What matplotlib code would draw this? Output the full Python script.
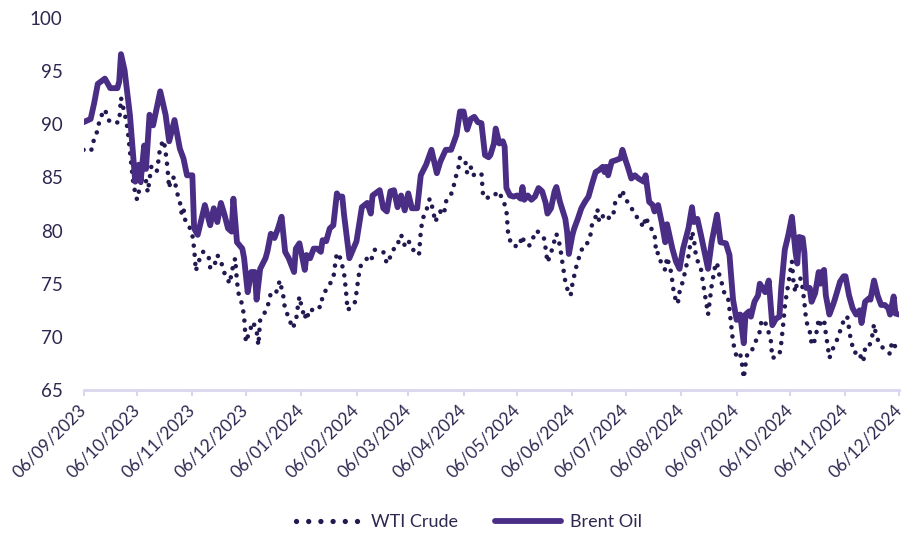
import matplotlib
matplotlib.use("Agg")
import matplotlib.pyplot as plt
import pandas as pd
from matplotlib.lines import Line2D

brent_dates = [
 "2023-09-06","2023-09-10","2023-09-12","2023-09-14","2023-09-18","2023-09-21","2023-09-25","2023-09-26","2023-09-27","2023-09-29",
 "2023-10-02","2023-10-05","2023-10-07","2023-10-08","2023-10-10","2023-10-11","2023-10-13","2023-10-15","2023-10-19","2023-10-22",
 "2023-10-24","2023-10-27","2023-10-30","2023-11-01","2023-11-03","2023-11-06","2023-11-07","2023-11-09","2023-11-13","2023-11-16",
 "2023-11-18","2023-11-20","2023-11-22","2023-11-24","2023-11-26","2023-11-28","2023-11-29","2023-12-01","2023-12-04","2023-12-05",
 "2023-12-07","2023-12-09","2023-12-11","2023-12-12","2023-12-14","2023-12-17","2023-12-18","2023-12-20","2023-12-22","2023-12-24",
 "2023-12-26","2023-12-28","2023-12-30","2024-01-02","2024-01-03","2024-01-05","2024-01-08","2024-01-09","2024-01-11","2024-01-13",
 "2024-01-15","2024-01-17","2024-01-18","2024-01-20","2024-01-22","2024-01-24","2024-01-26","2024-01-27","2024-01-29","2024-01-30",
 "2024-02-02","2024-02-06","2024-02-09","2024-02-12","2024-02-14","2024-02-15","2024-02-19","2024-02-21","2024-02-23","2024-02-25",
 "2024-02-27","2024-02-29","2024-03-02","2024-03-04","2024-03-06","2024-03-08","2024-03-11","2024-03-13","2024-03-16","2024-03-19",
 "2024-03-22","2024-03-24","2024-03-27","2024-03-30","2024-04-02","2024-04-04","2024-04-06","2024-04-08","2024-04-10","2024-04-12",
 "2024-04-14","2024-04-16","2024-04-18","2024-04-20","2024-04-21","2024-04-23","2024-04-24","2024-04-26","2024-04-28","2024-04-29",
 "2024-04-30","2024-05-02","2024-05-04","2024-05-06","2024-05-08","2024-05-09","2024-05-10","2024-05-12","2024-05-14","2024-05-16",
 "2024-05-18","2024-05-20","2024-05-22","2024-05-23","2024-05-25","2024-05-27","2024-05-28","2024-05-30","2024-06-02","2024-06-03",
 "2024-06-04","2024-06-06","2024-06-07","2024-06-09","2024-06-11","2024-06-13","2024-06-15","2024-06-17","2024-06-19","2024-06-21",
 "2024-06-23","2024-06-24","2024-06-25","2024-06-26","2024-06-28","2024-06-30","2024-07-03","2024-07-04","2024-07-06","2024-07-07",
 "2024-07-09","2024-07-11","2024-07-13","2024-07-16","2024-07-17","2024-07-19","2024-07-21","2024-07-22","2024-07-24","2024-07-26",
 "2024-07-28","2024-07-29","2024-08-01","2024-08-03","2024-08-05","2024-08-07","2024-08-10","2024-08-12","2024-08-13","2024-08-15",
 "2024-08-17","2024-08-19","2024-08-21","2024-08-23","2024-08-26","2024-08-28","2024-08-31","2024-09-02","2024-09-04","2024-09-06",
 "2024-09-08","2024-09-10","2024-09-11","2024-09-13","2024-09-14","2024-09-16","2024-09-18","2024-09-19","2024-09-22","2024-09-24",
 "2024-09-26","2024-09-28","2024-09-30","2024-10-01","2024-10-03","2024-10-05","2024-10-07","2024-10-09","2024-10-10","2024-10-11",
 "2024-10-13","2024-10-14","2024-10-15","2024-10-17","2024-10-18","2024-10-20","2024-10-22","2024-10-23","2024-10-24","2024-10-25",
 "2024-10-26","2024-10-28","2024-10-30","2024-10-31","2024-11-03","2024-11-05","2024-11-06","2024-11-08","2024-11-10","2024-11-12",
 "2024-11-14","2024-11-15","2024-11-17","2024-11-19","2024-11-20","2024-11-22","2024-11-24","2024-11-26","2024-11-28","2024-11-30",
 "2024-12-01","2024-12-03","2024-12-04","2024-12-06",
]
brent_values = [
 90.2,90.5,92.0,93.8,94.3,93.4,93.4,94.0,96.6,95.1,
 90.9,84.6,86.2,84.6,88.0,85.8,90.9,89.9,93.1,90.9,
 88.4,90.4,87.7,86.8,85.2,85.2,80.2,79.6,82.4,80.5,
 82.1,80.8,82.6,81.5,80.2,79.9,83.0,78.9,78.3,77.4,
 74.2,76.1,76.1,73.5,76.4,77.4,78.0,79.7,79.3,80.2,
 81.3,78.0,77.4,76.1,78.3,78.8,76.3,77.7,77.4,78.3,
 78.3,78.0,79.1,79.0,80.2,80.5,83.5,83.2,83.2,81.5,
 77.4,79.0,82.2,82.6,81.6,83.3,83.8,82.1,81.8,83.7,
 83.8,82.2,83.3,81.9,83.5,82.1,82.1,85.2,86.2,87.6,
 85.4,86.5,87.6,87.6,89.0,91.2,91.2,89.5,90.5,90.7,
 90.2,90.1,87.1,86.9,87.1,88.2,89.6,88.2,88.4,87.9,
 84.0,83.3,83.2,83.3,83.0,84.1,82.9,83.3,82.9,83.2,
 84.0,83.7,82.6,81.6,82.1,83.7,84.1,82.7,81.1,79.9,
 77.8,79.6,80.2,81.1,82.1,82.7,83.2,84.4,85.5,85.7,
 86.0,85.5,86.0,85.2,86.5,86.6,86.8,87.6,86.5,86.0,
 84.9,85.2,84.9,84.6,85.2,82.7,82.4,81.8,82.4,80.8,
 78.9,80.6,78.3,77.1,76.4,78.3,80.2,82.2,80.8,81.1,
 79.6,78.0,76.4,78.9,81.5,78.9,78.8,77.7,73.5,71.6,
 72.1,69.4,72.1,72.4,71.9,73.3,73.9,75.0,74.2,75.3,
 71.1,71.7,71.9,74.6,78.2,79.6,81.3,78.0,76.9,79.4,
 79.3,77.9,74.6,74.6,73.3,74.1,76.1,75.0,76.1,76.3,
 73.9,72.1,73.0,73.5,75.2,75.7,75.7,73.9,72.7,72.1,
 72.5,71.3,73.3,73.6,73.5,75.3,73.9,73.0,73.0,72.7,
 72.1,73.8,72.2,72.1,
]

wti_dates = [
 "2023-09-06","2023-09-09","2023-09-11","2023-09-12","2023-09-14","2023-09-15","2023-09-18","2023-09-20","2023-09-22","2023-09-26",
 "2023-09-27","2023-09-30","2023-10-01","2023-10-04","2023-10-06","2023-10-08","2023-10-09","2023-10-11","2023-10-12","2023-10-14",
 "2023-10-16","2023-10-17","2023-10-18","2023-10-19","2023-10-21","2023-10-22","2023-10-23","2023-10-24","2023-10-25","2023-10-27",
 "2023-10-28","2023-10-30","2023-10-31","2023-11-01","2023-11-02","2023-11-04","2023-11-06","2023-11-07","2023-11-08","2023-11-09",
 "2023-11-12","2023-11-15","2023-11-16","2023-11-18","2023-11-20","2023-11-22","2023-11-24","2023-11-27","2023-11-28","2023-11-30",
 "2023-12-01","2023-12-02","2023-12-04","2023-12-05","2023-12-06","2023-12-08","2023-12-10","2023-12-12","2023-12-13","2023-12-14",
 "2023-12-17","2023-12-19","2023-12-20","2023-12-23","2023-12-25","2023-12-27","2023-12-28","2023-12-30","2024-01-01","2024-01-03",
 "2024-01-04","2024-01-05","2024-01-06","2024-01-08","2024-01-09","2024-01-10","2024-01-13","2024-01-17","2024-01-18","2024-01-21",
 "2024-01-24","2024-01-25","2024-01-26","2024-01-28","2024-01-30","2024-01-31","2024-02-01","2024-02-05","2024-02-06","2024-02-07",
 "2024-02-08","2024-02-12","2024-02-14","2024-02-16","2024-02-21","2024-02-23","2024-02-24","2024-02-27","2024-02-29","2024-03-01",
 "2024-03-02","2024-03-04","2024-03-06","2024-03-08","2024-03-12","2024-03-13","2024-03-14","2024-03-16","2024-03-18","2024-03-20",
 "2024-03-21","2024-03-24","2024-03-26","2024-03-27","2024-03-31","2024-04-01","2024-04-03","2024-04-04","2024-04-07","2024-04-08",
 "2024-04-10","2024-04-11","2024-04-13","2024-04-16","2024-04-17","2024-04-20","2024-04-23","2024-04-25","2024-04-28","2024-04-30",
 "2024-05-01","2024-05-03","2024-05-07","2024-05-09","2024-05-10","2024-05-13","2024-05-14","2024-05-17","2024-05-21","2024-05-22",
 "2024-05-23","2024-05-25","2024-05-28","2024-05-30","2024-05-31","2024-06-01","2024-06-02","2024-06-04","2024-06-05","2024-06-06",
 "2024-06-08","2024-06-09","2024-06-11","2024-06-13","2024-06-16","2024-06-17","2024-06-19","2024-06-20","2024-06-21","2024-06-24",
 "2024-06-27","2024-06-29","2024-06-30","2024-07-02","2024-07-04","2024-07-05","2024-07-09","2024-07-10","2024-07-12","2024-07-16",
 "2024-07-17","2024-07-19","2024-07-22","2024-07-23","2024-07-24","2024-07-26","2024-07-28","2024-07-29","2024-07-31","2024-08-01",
 "2024-08-02","2024-08-04","2024-08-05","2024-08-07","2024-08-09","2024-08-10","2024-08-11","2024-08-12","2024-08-13","2024-08-14",
 "2024-08-15","2024-08-17","2024-08-18","2024-08-19","2024-08-20","2024-08-21","2024-08-23","2024-08-25","2024-08-26","2024-08-27",
 "2024-08-28","2024-08-30","2024-09-01","2024-09-02","2024-09-03","2024-09-04","2024-09-06","2024-09-08","2024-09-09","2024-09-10",
 "2024-09-11","2024-09-12","2024-09-14","2024-09-17","2024-09-19","2024-09-20","2024-09-22","2024-09-23","2024-09-25","2024-09-26",
 "2024-09-30","2024-10-01","2024-10-02","2024-10-03","2024-10-04","2024-10-05","2024-10-06","2024-10-07","2024-10-08","2024-10-09",
 "2024-10-10","2024-10-12","2024-10-13","2024-10-14","2024-10-15","2024-10-17","2024-10-18","2024-10-19","2024-10-21","2024-10-22",
 "2024-10-23","2024-10-25","2024-10-26","2024-10-27","2024-10-28","2024-10-30","2024-11-02","2024-11-04","2024-11-06","2024-11-07",
 "2024-11-08","2024-11-09","2024-11-11","2024-11-14","2024-11-15","2024-11-16","2024-11-17","2024-11-19","2024-11-21","2024-11-22",
 "2024-11-23","2024-11-25","2024-11-28","2024-12-01","2024-12-02","2024-12-03","2024-12-05","2024-12-06",
]
wti_values = [
 87.6,87.4,87.7,88.8,89.4,90.5,91.4,90.4,90.1,90.2,
 92.5,90.3,89.1,84.3,82.9,84.4,84.9,84.7,83.6,86.0,
 85.7,85.5,86.6,87.9,88.5,87.4,86.0,84.0,84.9,85.0,
 83.8,82.7,81.6,82.1,81.0,80.5,79.6,78.3,76.2,76.9,
 78.0,77.7,76.5,76.5,77.7,77.1,76.0,75.0,76.1,77.4,
 75.2,74.0,73.0,71.9,69.5,70.5,71.4,70.6,69.2,71.6,
 72.4,73.3,74.2,74.2,75.3,73.8,72.5,71.9,70.8,71.4,
 72.7,73.8,73.0,71.7,72.4,71.9,72.8,72.8,73.9,74.7,
 75.5,76.8,77.9,77.4,76.0,74.5,72.5,73.2,74.2,75.5,
 76.6,77.4,77.1,78.2,78.0,76.9,77.2,78.3,78.5,79.4,
 79.6,78.6,79.1,78.3,77.7,79.9,81.1,81.8,83.0,81.9,
 80.8,81.8,81.5,82.7,83.7,84.7,85.8,86.9,86.5,85.4,
 86.0,85.2,85.3,85.4,83.1,83.1,83.2,83.7,83.0,81.9,
 79.6,78.6,78.5,79.5,78.8,78.6,79.0,80.0,79.3,78.3,
 77.0,77.9,79.7,78.6,77.4,76.3,75.2,74.0,73.9,75.0,
 76.5,77.1,78.2,78.3,79.5,80.6,81.3,82.0,80.8,81.6,
 81.1,81.6,82.7,83.0,83.8,83.2,82.1,81.9,81.3,80.3,
 81.3,80.5,79.7,77.8,77.9,76.8,76.3,77.5,76.3,75.2,
 73.9,73.1,74.2,75.3,76.8,77.6,78.7,79.9,79.3,77.9,
 77.2,76.4,75.3,74.2,73.2,72.1,74.8,76.7,77.0,76.0,
 75.5,74.2,73.9,72.6,71.0,69.5,68.1,68.4,67.5,66.1,
 67.4,68.4,68.5,69.7,70.5,71.6,71.4,70.8,70.0,68.0,
 68.3,69.4,71.0,72.8,74.0,75.0,76.1,77.1,74.9,74.2,
 75.3,75.5,74.6,73.2,71.5,70.5,69.4,69.2,70.6,71.7,
 71.2,71.6,70.3,69.2,68.0,68.9,70.0,71.1,71.9,71.9,
 70.8,69.7,68.5,68.6,67.7,67.7,68.9,68.9,70.1,71.2,
 70.3,69.3,68.8,68.4,69.5,69.5,68.5,68.4,
]

tick_labels = ["06/09/2023","06/10/2023","06/11/2023","06/12/2023","06/01/2024","06/02/2024",
               "06/03/2024","06/04/2024","06/05/2024","06/06/2024","06/07/2024","06/08/2024",
               "06/09/2024","06/10/2024","06/11/2024","06/12/2024"]
y_ticks = [65, 70, 75, 80, 85, 90, 95, 100]

BRENT_C = "#4a2d84"
WTI_C = "#231850"
TEXT_C = "#2c2850"
AXIS_C = "#d9d6ef"

plt.rcParams['font.family'] = ['Lato', 'DejaVu Sans']

fig = plt.figure(figsize=(9.04, 5.36), dpi=100)
ax = fig.add_axes([83.5/904, 1-390/536, (899-83.5)/904, (390-18)/536])

bd = pd.to_datetime(brent_dates)
wd = pd.to_datetime(wti_dates)
tick_dates = pd.to_datetime(tick_labels, format="%d/%m/%Y")

ax.plot(wd, wti_values, color=WTI_C, lw=3.3, linestyle=(0, (0.01, 2.0)),
        dash_capstyle='round', zorder=2)
ax.plot(bd, brent_values, color=BRENT_C, lw=4.2, solid_joinstyle='round',
        solid_capstyle='round', zorder=3)

ax.set_xlim(tick_dates[0], tick_dates[-1])
ax.set_ylim(65, 100)
ax.set_yticks(y_ticks)
ax.set_yticklabels([str(v) for v in y_ticks])
ax.set_xticks(tick_dates)
ax.set_xticklabels(tick_labels, rotation=45, ha='right', va='center', rotation_mode='anchor')

for s in ['top', 'right', 'left']:
    ax.spines[s].set_visible(False)
ax.spines['bottom'].set_color(AXIS_C)
ax.spines['bottom'].set_linewidth(2)
ax.tick_params(axis='y', length=0, pad=15, labelsize=13.5, labelcolor=TEXT_C)
ax.tick_params(axis='x', length=4.5, width=1.5, color=AXIS_C, pad=8, labelsize=12.5, labelcolor=TEXT_C)

handles = [Line2D([], [], color=WTI_C, lw=3.8, linestyle=(0, (0.01, 2.3)), dash_capstyle='round'),
           Line2D([], [], color=BRENT_C, lw=4.2, solid_capstyle='round')]
fig.legend(handles, ["WTI Crude", "Brent Oil"], loc='center', bbox_to_anchor=(469/904, 1-522/536),
           ncol=2, frameon=False, fontsize=13, handlelength=3.7, columnspacing=2.0,
           handletextpad=0.5, labelcolor=TEXT_C)

fig.savefig("out.png", dpi=100)
